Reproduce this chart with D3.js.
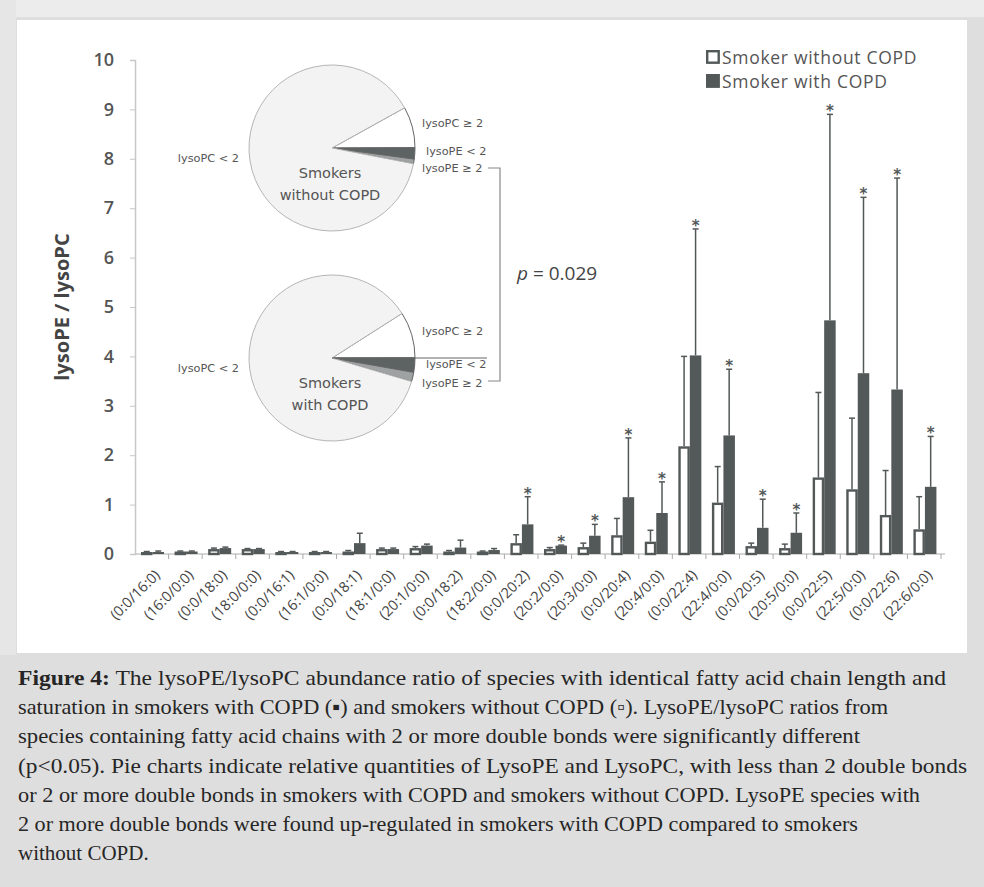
<!DOCTYPE html>
<meta charset="utf-8">
<style>
body { margin: 0; background: #dedede; }
svg { display: block; }
.axis text { font-family: "Open Sans", sans-serif; }
.caption { font-family: "Liberation Serif", serif; fill: #262626; }
</style>
<script src="https://cdn.jsdelivr.net/npm/d3@7"></script>
<body>
<script>

// categories on the x axis
var categories = ["(0:0/16:0)", "(16:0/0:0)", "(0:0/18:0)", "(18:0/0:0)", "(0:0/16:1)", "(16:1/0:0)",
  "(0:0/18:1)", "(18:1/0:0)", "(20:1/0:0)", "(0:0/18:2)", "(18:2/0:0)", "(0:0/20:2)",
  "(20:2/0:0)", "(20:3/0:0)", "(0:0/20:4)", "(20:4/0:0)", "(0:0/22:4)", "(22:4/0:0)",
  "(0:0/20:5)", "(20:5/0:0)", "(0:0/22:5)", "(22:5/0:0)", "(0:0/22:6)", "(22:6/0:0)"];

// smokers without COPD (open bars)
var withoutMean = [0.04, 0.05, 0.10, 0.10, 0.04, 0.04, 0.05, 0.10, 0.12, 0.05, 0.05, 0.22,
  0.10, 0.14, 0.38, 0.25, 2.18, 1.04, 0.16, 0.12, 1.55, 1.31, 0.79, 0.50];
var withoutSD = [0.01, 0.01, 0.02, 0.01, 0.01, 0.01, 0.02, 0.02, 0.03, 0.02, 0.01, 0.17,
  0.03, 0.08, 0.34, 0.23, 1.82, 0.73, 0.06, 0.08, 1.72, 1.44, 0.90, 0.66];

// smokers with COPD (filled bars)
var withMean = [0.04, 0.05, 0.12, 0.10, 0.04, 0.04, 0.22, 0.10, 0.17, 0.13, 0.08, 0.60,
  0.17, 0.37, 1.15, 0.83, 4.02, 2.40, 0.53, 0.43, 4.73, 3.66, 3.33, 1.36];
var withSD = [0.02, 0.01, 0.02, 0.01, 0.01, 0.01, 0.20, 0.02, 0.03, 0.15, 0.03, 0.56,
  0.01, 0.23, 1.20, 0.63, 2.56, 1.34, 0.58, 0.40, 4.17, 3.56, 4.28, 1.02];

// significant difference (star)
var significant = [0,0,0,0,0,0,0,0,0,0,0,1,1,1,1,1,1,1,1,1,1,1,1,1];

var yTicks = [0, 1, 2, 3, 4, 5, 6, 7, 8, 9, 10];

// pie inset: share of total abundance
var pieLabels = ["lysoPC ≥ 2", "lysoPE < 2", "lysoPE ≥ 2", "lysoPC < 2"];
var pieWithout = [8.0, 2.2, 0.9, 88.9];
var pieWith = [9.0, 2.8, 1.8, 86.4];

var captionLines = [
  ["Figure 4:", " The lysoPE/lysoPC abundance ratio of species with identical fatty acid chain length and"],
  ["", "saturation in smokers with COPD (\u25AA) and smokers without COPD (\u25AB). LysoPE/lysoPC ratios from"],
  ["", "species containing fatty acid chains with 2 or more double bonds were significantly different"],
  ["", "(p<0.05). Pie charts indicate relative quantities of LysoPE and LysoPC, with less than 2 double bonds"],
  ["", "or 2 or more double bonds in smokers with COPD and smokers without COPD. LysoPE species with"],
  ["", "2 or more double bonds were found up-regulated in smokers with COPD compared to smokers"],
  ["", "without COPD."]
];
var captionWidths = [928, 870, 842, 949, 902, 840, null];

var dark = "#535858";
var width = 984, height = 887;

var svg = d3.select("body").append("svg")
    .attr("width", width)
    .attr("height", height);

// white panel
svg.append("rect").attr("x", 0).attr("y", 0).attr("width", width).attr("height", 17).attr("fill", "#ececec");
svg.append("rect").attr("x", 0).attr("y", 0).attr("width", 16).attr("height", 655).attr("fill", "#e6e6e6");
svg.append("rect")
    .attr("x", 17).attr("y", 20)
    .attr("width", 950).attr("height", 633)
    .attr("fill", "#fff");

var x0 = d3.scaleBand().domain(categories).range([135, 941]);
var x1 = d3.scaleBand().domain(["without", "with"]).range([6, 29]);
var y = d3.scaleLinear().domain([0, 10]).range([554, 60]);

// y axis
var yAxis = d3.axisLeft(y).tickValues(yTicks).tickSize(5).tickFormat(d3.format("d"));
var gy = svg.append("g")
    .attr("class", "axis")
    .attr("transform", "translate(135,0)")
    .call(yAxis);
gy.select(".domain").attr("stroke", "#c8c8c8").attr("stroke-width", 1.5);
gy.selectAll(".tick line").attr("stroke", "#c8c8c8");
gy.selectAll(".tick text")
    .attr("x", -21)
    .attr("fill", "#555")
    .style("font-size", "18px")
    .style("font-weight", "600");

svg.append("text")
    .attr("transform", "translate(69,307) rotate(-90)")
    .attr("text-anchor", "middle")
    .style("font-family", "Open Sans, sans-serif")
    .style("font-size", "20px")
    .style("font-weight", "700")
    .attr("fill", "#444")
    .text("lysoPE / lysoPC");

// x axis: baseline with ticks at category boundaries
var gx = svg.append("g").attr("class", "axis");
gx.append("line")
    .attr("x1", 135).attr("x2", 945)
    .attr("y1", y(0)).attr("y2", y(0))
    .attr("stroke", "#c8c8c8").attr("stroke-width", 1.5);
gx.selectAll(".xtick")
    .data(categories)
    .enter().append("line")
    .attr("class", "xtick")
    .attr("x1", function(d) { return x0(d) + x0.bandwidth(); })
    .attr("x2", function(d) { return x0(d) + x0.bandwidth(); })
    .attr("y1", y(0)).attr("y2", y(0) + 5)
    .attr("stroke", "#aaa");
gx.selectAll(".xlabel")
    .data(categories)
    .enter().append("text")
    .attr("class", "xlabel")
    .attr("text-anchor", "end")
    .attr("transform", function(d) {
      return "translate(" + (x0(d) + x0.bandwidth() / 2 + 9) + "," + (y(0) + 22) + ") rotate(-45)";
    })
    .style("font-family", "Open Sans, sans-serif")
    .style("font-size", "14.5px")
    .attr("fill", "#444")
    .text(function(d) { return d; });

// bars
var rows = categories.map(function(c, i) {
  return {cat: c, sig: significant[i], groups: [
    {key: "without", mean: withoutMean[i], sd: withoutSD[i]},
    {key: "with", mean: withMean[i], sd: withSD[i]}
  ]};
});

var cat = svg.append("g").selectAll("g")
    .data(rows)
    .enter().append("g")
    .attr("transform", function(d) { return "translate(" + x0(d.cat) + ",0)"; });

var bar = cat.selectAll("g")
    .data(function(d) { return d.groups; })
    .enter().append("g");

// error bars (upper only)
bar.append("line")
    .attr("x1", function(d) { return x1(d.key) + x1.bandwidth() / 2; })
    .attr("x2", function(d) { return x1(d.key) + x1.bandwidth() / 2; })
    .attr("y1", function(d) { return y(d.mean); })
    .attr("y2", function(d) { return y(d.mean + d.sd); })
    .attr("stroke", dark).attr("stroke-width", 1.5);
bar.append("line")
    .attr("x1", function(d) { return x1(d.key) + x1.bandwidth() / 2 - 3; })
    .attr("x2", function(d) { return x1(d.key) + x1.bandwidth() / 2 + 3; })
    .attr("y1", function(d) { return y(d.mean + d.sd); })
    .attr("y2", function(d) { return y(d.mean + d.sd); })
    .attr("stroke", dark).attr("stroke-width", 1.5);

bar.append("rect")
    .attr("x", function(d) { return x1(d.key) + (d.key == "without" ? 1.2 : 0); })
    .attr("width", function(d) { return x1.bandwidth() - (d.key == "without" ? 2.4 : 0); })
    .attr("y", function(d) { return y(d.mean) + (d.key == "without" ? 1.2 : 0); })
    .attr("height", function(d) { return Math.max(0.5, y(0) - y(d.mean) - (d.key == "without" ? 1.2 : 0)); })
    .attr("fill", function(d) { return d.key == "without" ? "#fff" : dark; })
    .attr("stroke", dark)
    .attr("stroke-width", function(d) { return d.key == "without" ? 2.4 : 0; });

// stars
cat.filter(function(d) { return d.sig; })
    .append("text")
    .attr("x", x1("with") + x1.bandwidth() / 2)
    .attr("y", function(d) { return y(d.groups[1].mean + d.groups[1].sd) + 2; })
    .attr("text-anchor", "middle")
    .style("font-family", "DejaVu Sans, sans-serif")
    .style("font-size", "15px")
    .style("font-weight", "bold")
    .attr("fill", dark)
    .text("*");

// legend
var legend = svg.append("g").attr("transform", "translate(706,50)");
[["Smoker without COPD", "#fff"], ["Smoker with COPD", dark]].forEach(function(l, i) {
  legend.append("rect")
      .attr("x", 1.2).attr("y", i * 24 + 1.2)
      .attr("width", 11.5).attr("height", 11.5)
      .attr("fill", l[1]).attr("stroke", dark).attr("stroke-width", 2.4);
  legend.append("text")
      .attr("x", 16).attr("y", i * 24 + 14)
      .style("font-family", "Open Sans, sans-serif")
      .style("font-size", "17.5px")
      .style("font-weight", "500")
      .style("letter-spacing", "0.7px")
      .attr("fill", "#555")
      .text(l[0]);
});

// pie insets
var pieColors = ["#ffffff", "#5d6262", "#9ea2a2", "#f3f3f3"];
var pie = d3.pie().sort(null);
var arc = d3.arc().innerRadius(0).outerRadius(83);

function drawPie(values, cx, cy, start, title, labelY) {
  var g = svg.append("g").attr("transform", "translate(" + cx + "," + cy + ")");
  var startA = start * Math.PI / 180;
  pie.startAngle(startA).endAngle(startA + 2 * Math.PI);
  g.selectAll("path")
      .data(pie(values))
      .enter().append("path")
      .attr("d", arc)
      .attr("fill", function(d, i) { return pieColors[i]; })
      .attr("stroke", function(d, i) { return i == 3 ? "#b5b5b5" : "#666"; })
      .attr("stroke-width", 1);
  g.selectAll(".ttl")
      .data(title)
      .enter().append("text")
      .attr("x", -2)
      .attr("y", function(d, i) { return 30 + i * 22; })
      .attr("text-anchor", "middle")
      .style("font-family", "DejaVu Sans, sans-serif")
      .style("font-size", "14.5px")
      .attr("fill", "#555")
      .text(function(d) { return d; });
  // slice labels
  var lab = [[90, labelY[0]], [94, labelY[1]], [90, labelY[2]]];
  lab.forEach(function(p, i) {
    g.append("text")
        .attr("x", p[0]).attr("y", p[1])
        .style("font-family", "DejaVu Sans, sans-serif")
        .style("font-size", "11.3px")
        .attr("fill", "#555")
        .text(pieLabels[i]);
  });
  g.append("text")
      .attr("x", -93).attr("y", 14)
      .attr("text-anchor", "end")
      .style("font-family", "DejaVu Sans, sans-serif")
      .style("font-size", "11.3px")
      .attr("fill", "#555")
      .text(pieLabels[3]);
}

drawPie(pieWithout, 332, 148, 61, ["Smokers", "without COPD"], [-21, 7, 24]);
drawPie(pieWith, 332, 358, 57.5, ["Smokers", "with COPD"], [-23, 10, 29]);

svg.append("line")
    .attr("x1", 332).attr("x2", 487)
    .attr("y1", 358).attr("y2", 358)
    .attr("stroke", "#666");

// bracket and p value
svg.append("path")
    .attr("d", "M488,168H500V381H488")
    .attr("fill", "none")
    .attr("stroke", "#888")
    .attr("stroke-width", 1.2);
var pt = svg.append("text")
    .attr("x", 517).attr("y", 280)
    .style("font-family", "Open Sans, sans-serif")
    .style("font-size", "19px")
    .attr("fill", "#444");
pt.append("tspan").style("font-style", "italic").text("p");
pt.append("tspan").text(" = 0.029");

// caption
var cap = svg.append("g").attr("class", "caption");
captionLines.forEach(function(l, i) {
  var t = cap.append("text")
      .attr("x", 18)
      .attr("y", 685 + i * 29.2)
      .style("font-size", "21px");
  if (captionWidths[i]) {
    t.attr("textLength", captionWidths[i]).attr("lengthAdjust", "spacingAndGlyphs");
  }
  if (l[0]) t.append("tspan").style("font-weight", "bold").text(l[0]);
  t.append("tspan").text(l[1]);
});

</script>
</body>
